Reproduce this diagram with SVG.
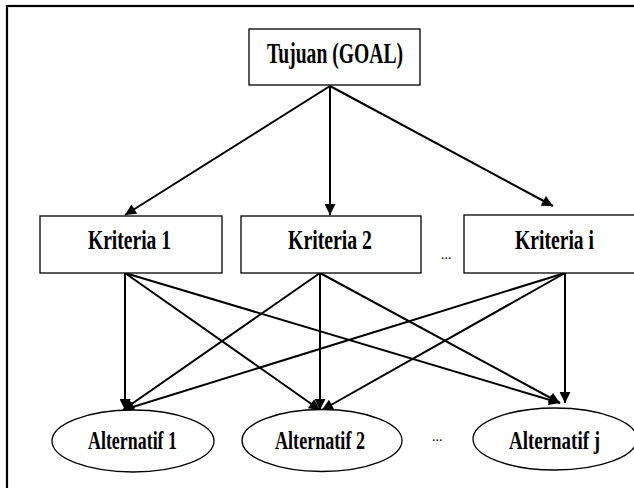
<svg xmlns="http://www.w3.org/2000/svg" width="634" height="488" viewBox="0 0 634 488">
<defs>
<style>
.box{fill:#fff;stroke:#000;stroke-width:1.3}
.lbl{font-family:"Liberation Serif","Times New Roman",serif;font-weight:bold;fill:#000}
.edge{stroke:#000;stroke-width:2;fill:none;marker-end:url(#ah)}
.dots{font-family:"Liberation Serif",serif;font-size:14px;fill:#000}
</style>
<marker id="ah" viewBox="0 0 10 10" refX="10" refY="5" markerWidth="13" markerHeight="11" markerUnits="userSpaceOnUse" orient="auto">
<path d="M0,0 L10,5 L0,10 z" fill="#000"/>
</marker>
</defs>
<rect width="634" height="488" fill="#fff"/>
<rect x="7" y="6" width="640" height="500" fill="none" stroke="#000" stroke-width="2.2"/>
<g id="connectors">
<line class="edge" x1="330" y1="86" x2="125" y2="215"/>
<line class="edge" x1="330" y1="86" x2="330" y2="215"/>
<line class="edge" x1="330" y1="86" x2="553" y2="206"/>
<line class="edge" x1="125" y1="273" x2="125" y2="410"/>
<line class="edge" x1="125" y1="273" x2="320" y2="410"/>
<line class="edge" x1="125" y1="273" x2="560" y2="403"/>
<line class="edge" x1="320" y1="273" x2="123" y2="410"/>
<line class="edge" x1="320" y1="273" x2="320" y2="410"/>
<line class="edge" x1="320" y1="273" x2="560" y2="403"/>
<line class="edge" x1="565" y1="273" x2="123" y2="410"/>
<line class="edge" x1="565" y1="273" x2="322" y2="410"/>
<line class="edge" x1="565" y1="273" x2="565" y2="403"/>
</g>
<g id="goal">
<rect class="box" x="249" y="29" width="171" height="56"/>
<text class="lbl" x="267" y="63" font-size="30" textLength="136" lengthAdjust="spacingAndGlyphs">Tujuan (GOAL)</text>
</g>
<g id="kriteria1">
<rect class="box" x="40" y="216" width="182" height="57"/>
<text class="lbl" x="88" y="249" font-size="27" textLength="83" lengthAdjust="spacingAndGlyphs">Kriteria 1</text>
</g>
<g id="kriteria2">
<rect class="box" x="241" y="216" width="180" height="57"/>
<text class="lbl" x="288" y="249" font-size="27" textLength="84" lengthAdjust="spacingAndGlyphs">Kriteria 2</text>
</g>
<g id="kriteriai">
<rect class="box" x="464" y="215" width="200" height="58"/>
<text class="lbl" x="515" y="249" font-size="27" textLength="79" lengthAdjust="spacingAndGlyphs">Kriteria i</text>
</g>
<text class="dots" x="441" y="259">...</text>
<g id="alternatif1">
<ellipse class="box" cx="133" cy="441" rx="81" ry="31"/>
<text class="lbl" x="88" y="449" font-size="26" textLength="89" lengthAdjust="spacingAndGlyphs">Alternatif 1</text>
</g>
<g id="alternatif2">
<ellipse class="box" cx="322" cy="440.5" rx="80" ry="31"/>
<text class="lbl" x="275" y="449" font-size="26" textLength="90" lengthAdjust="spacingAndGlyphs">Alternatif 2</text>
</g>
<g id="alternatifj">
<ellipse class="box" cx="555" cy="439" rx="82" ry="31"/>
<text class="lbl" x="509" y="449" font-size="26" textLength="91" lengthAdjust="spacingAndGlyphs">Alternatif j</text>
</g>
<text class="dots" x="432" y="441">...</text>
</svg>
